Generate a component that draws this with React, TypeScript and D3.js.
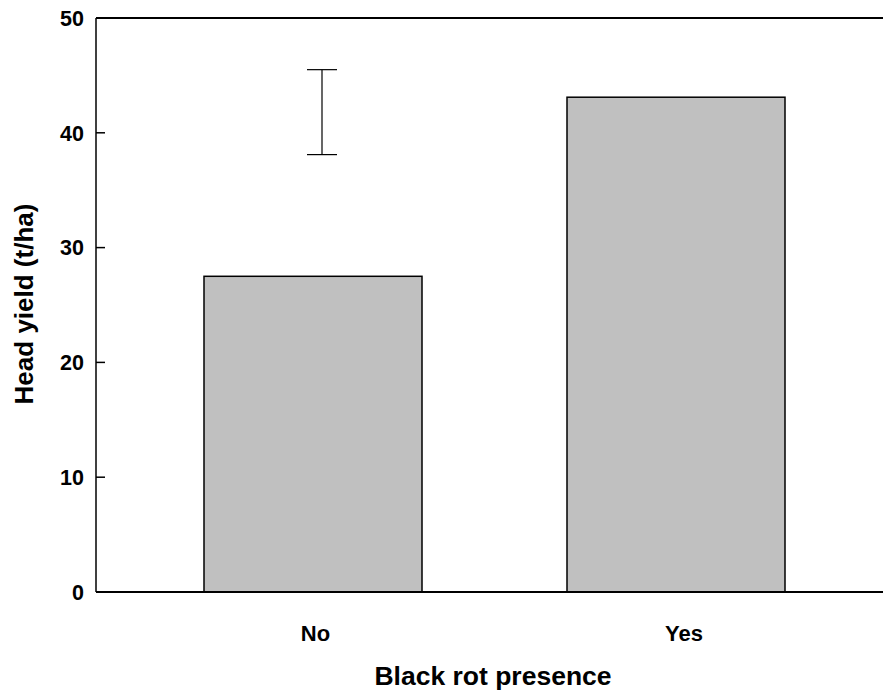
import React from "react";
import * as d3 from "d3";

const categories = ["No", "Yes"];
const yieldValues = [27.5, 43.1];
const errorLow = [38.1];
const errorHigh = [45.5];
const errorCategory = ["No"];
const yTicks = [0, 10, 20, 30, 40, 50];

const W = 883;
const H = 693;
const left = 96;
const right = 883;
const top = 18;
const bottom = 592;

export default function App() {
  const y = d3.scaleLinear().domain([0, 50]).range([bottom, top]);
  const bw = 218;
  const centers = [313, 676];
  const cx = d3.scaleOrdinal<string, number>().domain(categories).range(centers);
  const labelOffsets = [2.5, 8];
  const font = "'Liberation Sans', Arial, sans-serif";
  return (
    <svg width={W} height={H} style={{ position: "absolute", left: 0, top: 0 }}>
      <rect width={W} height={H} fill="#fff" />
      {categories.map((c, i) => (
        <rect
          key={c}
          x={cx(c) - bw / 2}
          y={y(yieldValues[i])}
          width={bw}
          height={y(0) - y(yieldValues[i])}
          fill="#c0c0c0"
          stroke="#000"
          strokeWidth={1.5}
        />
      ))}
      {errorCategory.map((c, i) => {
        const ex = cx(c) + 9;
        return (
          <g key={c} stroke="#000" strokeWidth={1.2}>
            <line x1={ex} x2={ex} y1={y(errorHigh[i])} y2={y(errorLow[i])} />
            <line x1={ex - 15} x2={ex + 15} y1={y(errorHigh[i])} y2={y(errorHigh[i])} />
            <line x1={ex - 15} x2={ex + 15} y1={y(errorLow[i])} y2={y(errorLow[i])} />
          </g>
        );
      })}
      <line x1={left} x2={right} y1={top} y2={top} stroke="#000" strokeWidth={2} />
      <line x1={left} x2={right} y1={bottom} y2={bottom} stroke="#000" strokeWidth={2} />
      <line x1={left} x2={left} y1={top} y2={bottom} stroke="#000" strokeWidth={1.5} />
      {yTicks.map((t) => (
        <g key={t}>
          <line x1={left} x2={left + 9} y1={y(t)} y2={y(t)} stroke="#000" strokeWidth={1.5} />
          <text
            x={84}
            y={y(t)}
            dy="0.36em"
            textAnchor="end"
            fontFamily={font}
            fontWeight="bold"
            fontSize={21.5}
          >
            {t}
          </text>
        </g>
      ))}
      {categories.map((c, i) => (
        <text
          key={c}
          x={cx(c) + labelOffsets[i]}
          y={641}
          textAnchor="middle"
          fontFamily={font}
          fontWeight="bold"
          fontSize={22}
        >
          {c}
        </text>
      ))}
      <text
        x={493}
        y={685}
        textAnchor="middle"
        fontFamily={font}
        fontWeight="bold"
        fontSize={26.5}
      >
        Black rot presence
      </text>
      <text
        transform={`translate(33,304) rotate(-90)`}
        textAnchor="middle"
        fontFamily={font}
        fontWeight="bold"
        fontSize={26}
      >
        Head yield (t/ha)
      </text>
    </svg>
  );
}
